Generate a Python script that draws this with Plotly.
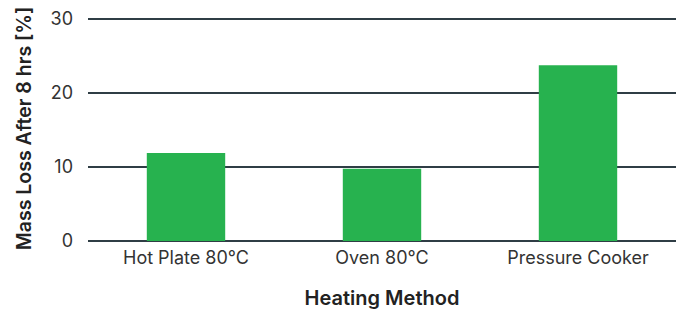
import plotly.graph_objects as go

methods = ["Hot Plate 80°C", "Oven 80°C", "Pressure Cooker"]
mass_loss = [11.9, 9.75, 23.75]
y_ticks = [0, 10, 20, 30]

fig = go.Figure(go.Bar(x=methods, y=mass_loss, marker=dict(color="#27b24f", line=dict(width=0))))
fig.update_layout(
    width=681, height=310,
    margin=dict(l=88, r=5, t=16, b=69),
    paper_bgcolor="white", plot_bgcolor="white",
    bargap=0.6,
    font=dict(family="Inter", size=18, color="#333333"),
    showlegend=False,
)
fig.update_xaxes(
    title=dict(text="Heating Method", font=dict(size=20, weight=600, color="#222222"), standoff=25),
    showline=False, ticks="", showgrid=False, automargin=False, ticklabelstandoff=4,
)
fig.update_yaxes(
    range=[0, 30.4], tickvals=y_ticks,
    title=dict(text="Mass Loss After 8 hrs [%]", font=dict(size=19.5, weight=600, color="#222222"), standoff=13),
    showgrid=True, gridcolor="#2f3d45", gridwidth=1.8,
    zeroline=True, zerolinecolor="#2f3d45", zerolinewidth=1.8,
    ticks="", ticklabelstandoff=14, automargin=False,
)
fig.write_html("out.html", config={"displayModeBar": False},
               post_script="document.body.style.margin='0';")
